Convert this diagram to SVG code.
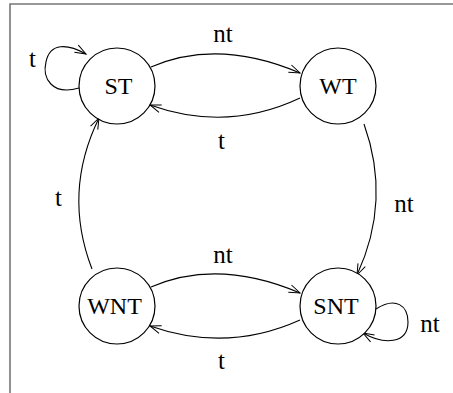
<svg xmlns="http://www.w3.org/2000/svg" width="453" height="393" viewBox="0 0 453 393">
<defs>
<marker id="arr" markerUnits="userSpaceOnUse" markerWidth="14" markerHeight="10" refX="12" refY="5" orient="auto" overflow="visible">
<path d="M1,1 L12,5 L1,9" fill="none" stroke="#000" stroke-width="1"/>
</marker>
</defs>
<style>
.node circle{fill:#fff;stroke:#000;stroke-width:1.2}
.node text{font-family:"Liberation Serif","Times New Roman",serif;font-size:24px;text-anchor:middle;fill:#000}
.edge{fill:none;stroke:#000;stroke-width:1.1;marker-end:url(#arr)}
.lbl{font-family:"Liberation Serif","Times New Roman",serif;font-size:25px;text-anchor:middle;fill:#000}
.frame{fill:none;stroke:#777;stroke-width:1.6}
</style>
<rect width="453" height="393" fill="#fff"/>
<path class="frame" d="M10,393 L10,4 L453,4"/>
<g id="connectors">
<path class="edge" d="M151,67 Q218,38 300,73"/>
<path class="edge" d="M300,98 Q227,132.5 150,105"/>
<path class="edge" d="M151,287 Q218,258 300,293"/>
<path class="edge" d="M300,320 Q227,353 150,326"/>
<path class="edge" d="M364,124 Q391.5,200.5 357,275"/>
<path class="edge" d="M92,269 Q62.5,192.5 99,118"/>
<path class="edge" d="M79,88 C52,96 42,78 46,62 C50,42 68,44 86,54"/>
<path class="edge" d="M376,309 C396,296 408,306 408,322 C408,344 384,345 363,333"/>
<text class="lbl" x="223" y="42">nt</text>
<text class="lbl" x="221.5" y="149">t</text>
<text class="lbl" x="223" y="263">nt</text>
<text class="lbl" x="221.5" y="369">t</text>
<text class="lbl" x="404" y="212">nt</text>
<text class="lbl" x="58.5" y="206">t</text>
<text class="lbl" x="32.5" y="67">t</text>
<text class="lbl" x="430" y="332">nt</text>
</g>
<g id="ST" class="node"><circle cx="117" cy="86" r="38"/><text x="118.5" y="94">ST</text></g>
<g id="WT" class="node"><circle cx="338" cy="86" r="38"/><text x="338" y="94">WT</text></g>
<g id="WNT" class="node"><circle cx="117" cy="306" r="38"/><text x="114.5" y="314">WNT</text></g>
<g id="SNT" class="node"><circle cx="338" cy="306" r="38"/><text x="336" y="314">SNT</text></g>
</svg>
